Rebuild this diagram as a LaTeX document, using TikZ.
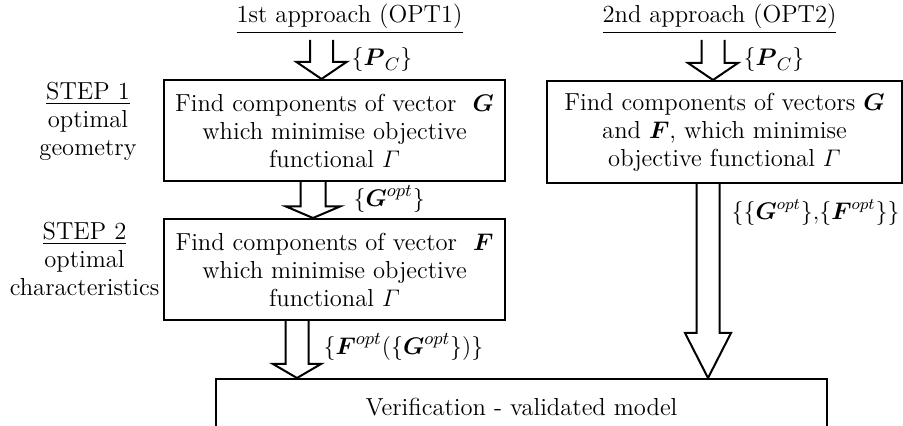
\documentclass[tikz,border=0pt]{standalone}
\usepackage{amssymb,amsmath}
\usepackage{tikz}
\usetikzlibrary{calc,positioning}

\newcommand{\fatarrow}[5]{%
  \draw[fat] let \p1=#1, \p2=#2 in
    (\x1-#3,\y1) -- (\x1-#3,\y2+#5) -- (\x1-#4,\y2+#5) -- (\x2,\y2)
    -- (\x1+#4,\y2+#5) -- (\x1+#3,\y2+#5) -- (\x1+#3,\y1);}

\begin{document}
\begin{tikzpicture}[x=0.5pt,y=-0.5pt,semithick,
                    font=\fontsize{12.3}{14}\selectfont]
  \tikzstyle{box}=[draw,line width=1pt,align=center,inner sep=0pt]
  \tikzstyle{fat}=[draw,line width=1pt,line join=miter]
  \tikzstyle{lbl}=[anchor=west,inner sep=1pt]
  \useasboundingbox (0,0) rectangle (903,426);

  \node (T1) at (349.5,19) {\underline{1st approach (OPT1)}};
  \node (T2) at (719.5,19) {\underline{2nd approach (OPT2)}};

  \node[box,minimum width=170.5pt,minimum height=50.5pt] (A) at (334.5,130.5)
    {Find components of vector\ \ $\boldsymbol{G}$\\ which minimise objective\\ functional $\varGamma$};
  \node[box,minimum width=170.5pt,minimum height=50.5pt] (B) at (334.5,269.5)
    {Find components of vector\ \ $\boldsymbol{F}$\\ which minimise objective\\ functional $\varGamma$};
  \node[box,minimum width=177.5pt,minimum height=51pt] (C) at (724.5,132)
    {Find components of vectors $\boldsymbol{G}$\\ and $\boldsymbol{F}$, which minimise\\ objective functional $\varGamma$};
  \node[box,minimum width=305.5pt,minimum height=28pt] (D) at (521.5,407)
    {Verification - validated model};

  \node[align=center] (S1) at (88,121) {\underline{STEP 1}\\ optimal\\ geometry};
  \node[align=center] (S2) at (84.5,259) {\underline{STEP 2}\\ optimal\\ characteristics};

  \coordinate (P1) at (321.5,40);
  \coordinate (P2) at (713,40);
  \coordinate (a2) at ([xshift=-10.75pt]A.south);
  \coordinate (b3) at ([xshift=-18.75pt]B.south);
  \coordinate (c4) at ([xshift=-8.25pt]C.south);

  \fatarrow{(P1)}{(P1 |- A.north)}{5.75pt}{12.5pt}{8.5pt}
  \fatarrow{(P2)}{(P2 |- C.north)}{5.75pt}{12.5pt}{8.5pt}
  \fatarrow{(a2)}{(a2 |- B.north)}{6.25pt}{13.5pt}{5.75pt}
  \fatarrow{(b3)}{(b3 |- D.north)}{5.75pt}{12pt}{7pt}
  \fatarrow{(c4)}{(c4 |- D.north)}{5.75pt}{11.5pt}{22.5pt}

  \node[lbl] (L1) at (349,60) {$\{\boldsymbol{P}_C\}$};
  \node[lbl] (L2) at (741,60) {$\{\boldsymbol{P}_C\}$};
  \node[lbl] (L3) at (351,199) {$\{\boldsymbol{G}^{opt}\}$};
  \node[lbl] (L4) at (321,347) {$\{\boldsymbol{F}^{opt}(\{\boldsymbol{G}^{opt}\})\}$};
  \node[lbl,font=\fontsize{11.6}{14}\selectfont] (L5) at (729,213)
    {$\{\{\boldsymbol{G}^{opt}\}{,}\{\boldsymbol{F}^{opt}\}\}$};
\end{tikzpicture}
\end{document}
